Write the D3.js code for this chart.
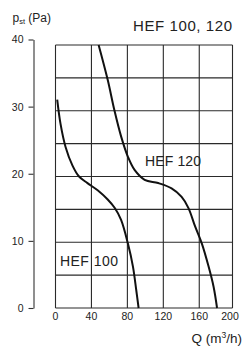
<!DOCTYPE html>
<html>
<head>
<meta charset="utf-8">
<script src="https://cdn.jsdelivr.net/npm/d3@7"></script>
<style>
  body { margin: 0; background: #fff; }
  svg { display: block; font-family: "Liberation Sans", Arial, sans-serif; }
  text { fill: #222; }
</style>
</head>
<body>
<svg></svg>
<script>
var width = 243;
var height = 346;

// fan curves, Q (m3/h) vs static pressure (Pa)
var hef100Q = [1.9, 5.6, 11.2, 18.8, 26.2, 35.6, 46.9, 58.1, 66, 73, 80.6, 86.2, 89.9, 92.5];
var hef100P = [31.7, 28.0, 24.5, 21.7, 20.0, 19.0, 17.9, 16.5, 15.2, 13.4, 9.8, 6.3, 2.7, 0];
var hef120Q = [48, 58.1, 65.5, 73, 80.6, 88, 99.2, 114.3, 129.2, 140.4, 148, 155.4, 162.9, 170.4, 176, 179.8];
var hef120P = [40, 34.7, 30.1, 26.1, 23.0, 21.0, 19.5, 19.0, 18.2, 16.9, 15.2, 12.4, 9.8, 6.3, 3.2, 0];

var xTicks = [0, 40, 80, 120, 160, 200];
var xGrid = [0, 40, 80, 120, 160];
var yTicks = [0, 10, 20, 30, 40];
var yGrid = [0, 5, 10, 15, 20, 25, 30, 35, 40];

var svg = d3.select('svg')
    .attr('width', width)
    .attr('height', height);

var x = d3.scaleLinear().domain([0, 197]).range([55.5, 232.5]);
var y = d3.scaleLinear().domain([0, 40]).range([308, 45]);
// the left axis is drawn a little taller than the grid
var yAxisScale = d3.scaleLinear().domain([0, 40]).range([308, 39.5]);

var grid = svg.append('g')
    .attr('stroke', '#2a2a2a')
    .attr('stroke-width', 1.1);

grid.selectAll('line.h')
    .data(yGrid)
    .enter().append('line')
    .attr('class', 'h')
    .attr('x1', x(0)).attr('x2', x(197))
    .attr('y1', function(d) { return y(d); })
    .attr('y2', function(d) { return y(d); });

grid.selectAll('line.v')
    .data(xGrid.concat([197]))
    .enter().append('line')
    .attr('class', 'v')
    .attr('y1', y(0)).attr('y2', y(40))
    .attr('x1', function(d) { return x(d); })
    .attr('x2', function(d) { return x(d); });

// y axis, offset to the left of the grid
var yAxis = d3.axisLeft(yAxisScale)
    .tickValues(yTicks)
    .tickSize(5)
    .tickPadding(5)
    .tickSizeOuter(0);

var gy = svg.append('g')
    .attr('transform', 'translate(33.5,0)')
    .call(yAxis);
gy.select('.domain').attr('stroke', '#333').attr('stroke-width', 1.1);
gy.selectAll('.tick line').attr('stroke', '#333').attr('stroke-width', 1.1);
gy.selectAll('.tick text')
    .attr('font-size', 10.5)
    .attr('fill', '#222')
    .style('font-family', '"Liberation Sans", Arial, sans-serif');

// x tick labels only
svg.append('g').selectAll('text')
    .data(xTicks)
    .enter().append('text')
    .attr('x', function(d) { return Math.min(x(d), 230); })
    .attr('y', 319.5)
    .attr('text-anchor', 'middle')
    .attr('font-size', 10.5)
    .text(function(d) { return d; });

var line = d3.line()
    .x(function(d) { return x(d[0]); })
    .y(function(d) { return y(d[1]); })
    .curve(d3.curveCatmullRom.alpha(0.5));

function pairs(qs, ps) {
    return qs.map(function(q, i) { return [q, ps[i]]; });
}

svg.append('path')
    .datum(pairs(hef100Q, hef100P))
    .attr('d', line)
    .attr('fill', 'none')
    .attr('stroke', '#111')
    .attr('stroke-width', 2);

svg.append('path')
    .datum(pairs(hef120Q, hef120P))
    .attr('d', line)
    .attr('fill', 'none')
    .attr('stroke', '#111')
    .attr('stroke-width', 2);

// labels
svg.append('text')
    .attr('x', 145).attr('y', 165.5)
    .attr('font-size', 14)
    .attr('textLength', 56)
    .text('HEF 120');

svg.append('text')
    .attr('x', 60).attr('y', 265.5)
    .attr('font-size', 14)
    .attr('textLength', 58)
    .text('HEF 100');

svg.append('text')
    .attr('x', 133).attr('y', 30.5)
    .attr('font-size', 15)
    .attr('textLength', 99)
    .text('HEF 100, 120');

var yl = svg.append('text')
    .attr('x', 12.5).attr('y', 21.5)
    .attr('font-size', 12);
yl.append('tspan').text('p');
yl.append('tspan').attr('font-size', 7.5).attr('dy', 2.5).text('st');
yl.append('tspan').attr('dy', -2.5).text(' (Pa)');

var xl = svg.append('text')
    .attr('x', 242).attr('y', 343)
    .attr('text-anchor', 'end')
    .attr('font-size', 13.5);
xl.append('tspan').text('Q (m');
xl.append('tspan').attr('font-size', 8.5).attr('dy', -5).text('3');
xl.append('tspan').attr('dy', 5).text('/h)');
</script>
</body>
</html>
